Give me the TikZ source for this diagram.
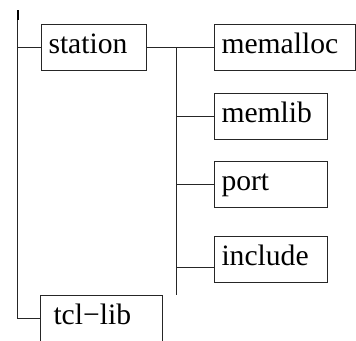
\documentclass[tikz,border=0pt]{standalone}
\usepackage{fontspec}
\setmainfont{Liberation Serif}
\begin{document}
\begin{tikzpicture}[x=1pt,y=-1pt,
  box/.style={draw=black!85, line width=1pt, rectangle, anchor=north west,
    minimum height=46pt, inner xsep=7pt, inner ysep=0pt,
    text height=20pt, text depth=8pt, align=left,
    font=\fontsize{29.6}{30}\selectfont},
  conn/.style={draw=black!85, line width=0.9pt},
  thick top/.style={draw=black, line width=2pt}]
\useasboundingbox (0,0) rectangle (356,340);
% boxes
\node[box, text width=91pt, minimum width=105pt] (station) at (41,24) {station};
\node[box, text width=127pt, minimum width=141pt] (memalloc) at (214,24) {memalloc};
\node[box, text width=99pt, minimum width=113pt] (memlib) at (214,93) {memlib};
\node[box, text width=99pt, minimum width=113pt] (port) at (214,161) {port};
\node[box, text width=99pt, minimum width=113pt] (include) at (214,236) {include};
\node[box, inner xsep=13pt, text width=96pt, minimum width=122pt] (tcllib) at (40,295) {tcl−lib};
% junction points
\coordinate (top) at (17.5,10);
\coordinate (thk) at (17.5,20);
\coordinate (vt) at (176,47);
\coordinate (vb) at (176,295);
\coordinate (ij) at (176,267);
% connectors
\draw[conn] (top) -- (top |- tcllib.west) -- (tcllib.west);
\draw[thick top] (top) -- (thk);
\draw[conn] (top |- station.west) -- (station.west);
\draw[conn] (station.east) -- (memalloc.west);
\draw[conn] (vt) -- (vb);
\draw[conn] (vt |- memlib.west) -- (memlib.west);
\draw[conn] (vt |- port.west) -- (port.west);
\draw[conn] (ij) -- (ij -| include.west);
\end{tikzpicture}
\end{document}
